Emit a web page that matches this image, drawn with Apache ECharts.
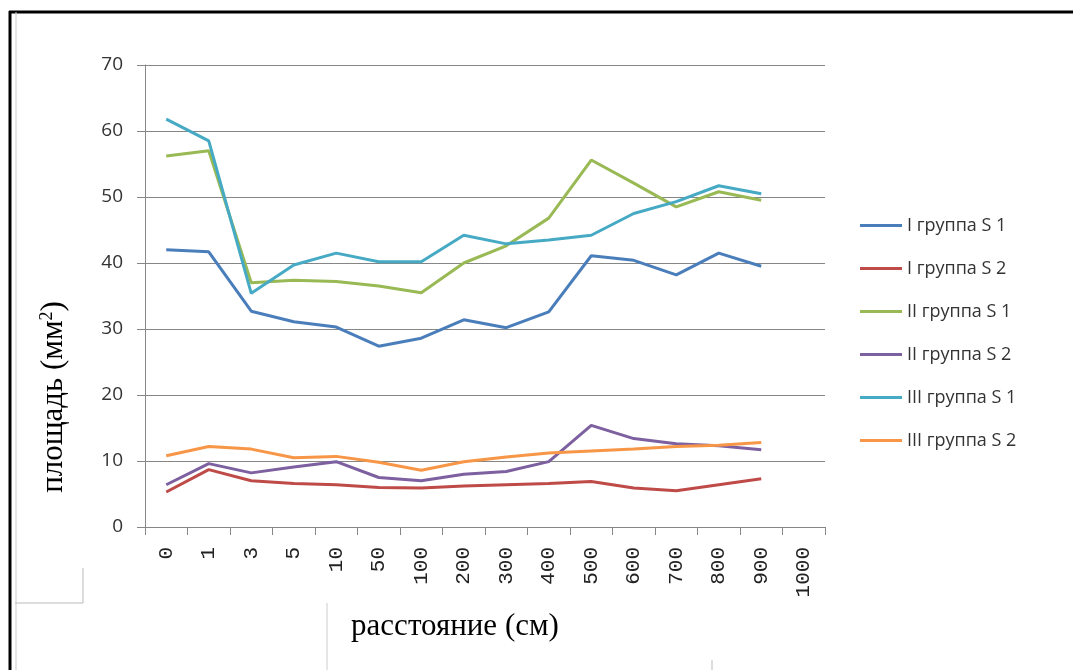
<!DOCTYPE html>
<html>
<head>
<meta charset="utf-8">
<script src="https://cdn.jsdelivr.net/npm/echarts@6/dist/echarts.min.js"></script>
<style>
  html, body { margin: 0; padding: 0; background: #fff; }
  #main { width: 1073px; height: 670px; }
</style>
</head>
<body>
<div id="main"></div>
<script>
// расстояние (см)
var categories = ["0", "1", "3", "5", "10", "50", "100", "200", "300", "400", "500", "600", "700", "800", "900", "1000"];

// площадь (мм2)
var g1s1 = [42.0, 41.7, 32.7, 31.1, 30.3, 27.4, 28.6, 31.4, 30.2, 32.6, 41.1, 40.4, 38.2, 41.5, 39.5];
var g1s2 = [5.3, 8.7, 7.0, 6.6, 6.4, 6.0, 5.9, 6.2, 6.4, 6.6, 6.9, 5.9, 5.5, 6.4, 7.3];
var g2s1 = [56.2, 57.0, 37.0, 37.4, 37.2, 36.5, 35.5, 40.0, 42.6, 46.8, 55.6, 52.1, 48.5, 50.8, 49.5];
var g2s2 = [6.4, 9.6, 8.2, 9.1, 9.9, 7.5, 7.0, 8.0, 8.4, 9.9, 15.4, 13.4, 12.6, 12.3, 11.7];
var g3s1 = [61.8, 58.5, 35.4, 39.7, 41.5, 40.2, 40.2, 44.2, 42.9, 43.5, 44.2, 47.5, 49.3, 51.7, 50.5];
var g3s2 = [10.8, 12.2, 11.8, 10.5, 10.7, 9.8, 8.6, 9.9, 10.6, 11.2, 11.5, 11.8, 12.2, 12.4, 12.8];

var names = ["I группа S 1", "I группа S 2", "II группа S 1", "II группа S 2", "III группа S 1", "III группа S 2"];
var colors = ["#4A7EBB", "#BE4B48", "#98B954", "#7D60A0", "#46AAC5", "#F79646"];
var values = [g1s1, g1s2, g2s1, g2s2, g3s1, g3s2];

var chart = echarts.init(document.getElementById("main"));

var series = names.map(function (n, i) {
  return {
    name: n,
    type: "line",
    data: values[i],
    symbol: "none",
    lineStyle: { width: 3, color: colors[i] },
    itemStyle: { color: colors[i] }
  };
});

chart.setOption({
  animation: false,
  color: colors,
  grid: { left: 145, right: 248, top: 65, bottom: 143 },
  legend: {
    orient: "vertical",
    left: 855,
    top: 210,
    icon: "rect",
    itemWidth: 42,
    itemHeight: 3,
    itemGap: 22,
    data: names,
    textStyle: { fontFamily: "Open Sans", fontSize: 18, color: "#333", lineHeight: 21 }
  },
  xAxis: {
    type: "category",
    data: categories,
    boundaryGap: true,
    axisLine: { lineStyle: { color: "#868686", width: 1 } },
    axisTick: { show: true, length: 8, lineStyle: { color: "#868686" } },
    axisLabel: {
      rotate: 90,
      margin: 20,
      interval: 0,
      fontFamily: "Liberation Mono",
      fontSize: 21,
      color: "#222"
    }
  },
  yAxis: {
    type: "value",
    min: 0,
    max: 70,
    interval: 10,
    axisLine: { show: true, lineStyle: { color: "#868686" } },
    axisTick: { show: true, length: 8, inside: false, lineStyle: { color: "#868686" } },
    axisLabel: { margin: 22, fontFamily: "Open Sans", fontSize: 19, color: "#333" },
    splitLine: { lineStyle: { color: "#868686", width: 1 } }
  },
  graphic: [
    // рамка
    { type: "line", shape: { x1: 9, y1: 12, x2: 1073, y2: 12 }, style: { stroke: "#000", lineWidth: 3 } },
    { type: "line", shape: { x1: 10, y1: 11, x2: 10, y2: 670 }, style: { stroke: "#000", lineWidth: 3 } },
    { type: "line", shape: { x1: 16, y1: 12, x2: 16, y2: 670 }, style: { stroke: "#ccc", lineWidth: 1 } },
    { type: "polyline", shape: { points: [[15, 603], [83, 603], [83, 568]] }, style: { stroke: "#bbb", fill: null, lineWidth: 1 } },
    { type: "line", shape: { x1: 327, y1: 603, x2: 327, y2: 670 }, style: { stroke: "#ccc", lineWidth: 1 } },
    { type: "line", shape: { x1: 712, y1: 660, x2: 712, y2: 670 }, style: { stroke: "#bbb", lineWidth: 1 } },
    {
      type: "text",
      x: 54,
      y: 397,
      rotation: Math.PI / 2,
      style: {
        text: "площадь (мм{sup|2})",
        font: "31px 'Liberation Serif'",
        fill: "#000",
        align: "center",
        verticalAlign: "middle",
        rich: {
          sup: { fontSize: 18, fontFamily: "Liberation Serif", verticalAlign: "top", padding: [0, 0, 12, 0] }
        }
      }
    },
    {
      type: "text",
      x: 455,
      y: 627,
      style: {
        text: "расстояние (см)",
        font: "31px 'Liberation Serif'",
        fill: "#000",
        align: "center",
        verticalAlign: "middle"
      }
    }
  ],
  series: series
});
</script>
</body>
</html>
